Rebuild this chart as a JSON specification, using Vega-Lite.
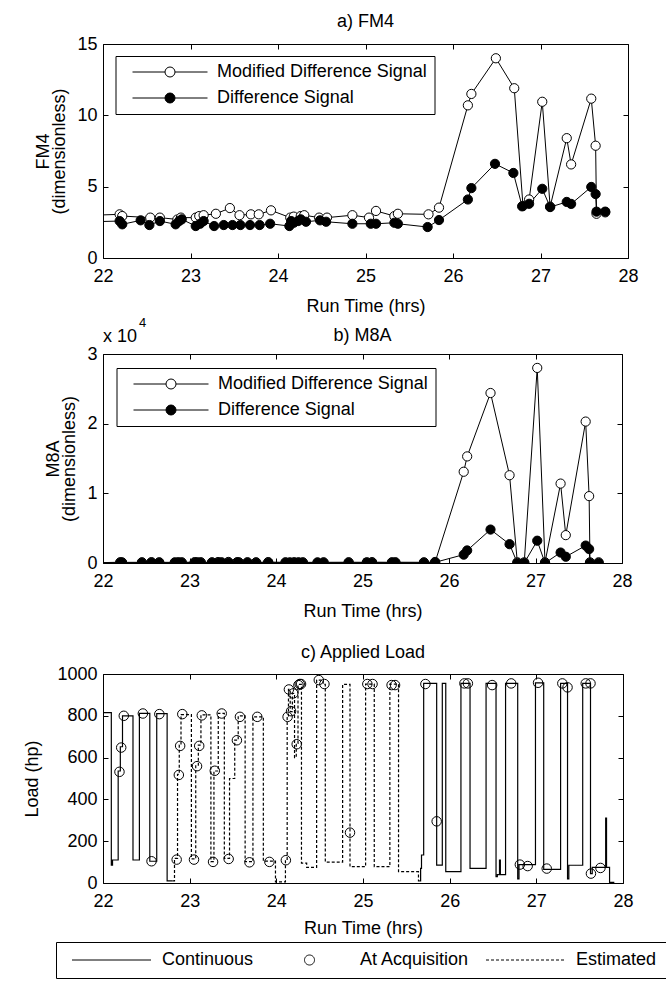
{
  "$schema": "https://vega.github.io/schema/vega-lite/v6.json",
  "padding": {"left": 23, "top": 12, "right": 0, "bottom": 0},
  "spacing": 0,
  "background": "white",
  "datasets": {
    "fm4": [
      {"t": 21.8, "v": 2.98, "s": "Modified Difference Signal"},
      {"t": 22.19, "v": 3.06, "s": "Modified Difference Signal"},
      {"t": 22.22, "v": 2.94, "s": "Modified Difference Signal"},
      {"t": 22.54, "v": 2.83, "s": "Modified Difference Signal"},
      {"t": 22.65, "v": 2.83, "s": "Modified Difference Signal"},
      {"t": 22.85, "v": 2.7, "s": "Modified Difference Signal"},
      {"t": 22.89, "v": 2.83, "s": "Modified Difference Signal"},
      {"t": 23.06, "v": 2.83, "s": "Modified Difference Signal"},
      {"t": 23.1, "v": 2.94, "s": "Modified Difference Signal"},
      {"t": 23.15, "v": 3.0, "s": "Modified Difference Signal"},
      {"t": 23.29, "v": 3.1, "s": "Modified Difference Signal"},
      {"t": 23.45, "v": 3.5, "s": "Modified Difference Signal"},
      {"t": 23.56, "v": 3.0, "s": "Modified Difference Signal"},
      {"t": 23.69, "v": 3.06, "s": "Modified Difference Signal"},
      {"t": 23.78, "v": 3.06, "s": "Modified Difference Signal"},
      {"t": 23.92, "v": 3.34, "s": "Modified Difference Signal"},
      {"t": 24.14, "v": 2.83, "s": "Modified Difference Signal"},
      {"t": 24.18, "v": 2.9, "s": "Modified Difference Signal"},
      {"t": 24.26, "v": 2.94, "s": "Modified Difference Signal"},
      {"t": 24.3, "v": 3.0, "s": "Modified Difference Signal"},
      {"t": 24.47, "v": 2.83, "s": "Modified Difference Signal"},
      {"t": 24.56, "v": 2.83, "s": "Modified Difference Signal"},
      {"t": 24.85, "v": 3.0, "s": "Modified Difference Signal"},
      {"t": 25.04, "v": 2.83, "s": "Modified Difference Signal"},
      {"t": 25.12, "v": 3.3, "s": "Modified Difference Signal"},
      {"t": 25.33, "v": 2.94, "s": "Modified Difference Signal"},
      {"t": 25.37, "v": 3.1, "s": "Modified Difference Signal"},
      {"t": 25.72, "v": 3.06, "s": "Modified Difference Signal"},
      {"t": 25.84, "v": 3.53, "s": "Modified Difference Signal"},
      {"t": 26.17, "v": 10.7, "s": "Modified Difference Signal"},
      {"t": 26.21, "v": 11.5, "s": "Modified Difference Signal"},
      {"t": 26.49, "v": 14.0, "s": "Modified Difference Signal"},
      {"t": 26.7, "v": 11.9, "s": "Modified Difference Signal"},
      {"t": 26.8, "v": 3.65, "s": "Modified Difference Signal"},
      {"t": 26.87, "v": 4.1, "s": "Modified Difference Signal"},
      {"t": 27.02, "v": 10.95, "s": "Modified Difference Signal"},
      {"t": 27.11, "v": 3.6, "s": "Modified Difference Signal"},
      {"t": 27.3, "v": 8.4, "s": "Modified Difference Signal"},
      {"t": 27.35, "v": 6.56, "s": "Modified Difference Signal"},
      {"t": 27.58, "v": 11.17, "s": "Modified Difference Signal"},
      {"t": 27.63, "v": 7.87, "s": "Modified Difference Signal"},
      {"t": 27.64, "v": 3.1, "s": "Modified Difference Signal"},
      {"t": 27.74, "v": 3.2, "s": "Modified Difference Signal"},
      {"t": 21.8, "v": 2.53, "s": "Difference Signal"},
      {"t": 22.19, "v": 2.59, "s": "Difference Signal"},
      {"t": 22.22, "v": 2.36, "s": "Difference Signal"},
      {"t": 22.43, "v": 2.64, "s": "Difference Signal"},
      {"t": 22.53, "v": 2.31, "s": "Difference Signal"},
      {"t": 22.65, "v": 2.59, "s": "Difference Signal"},
      {"t": 22.83, "v": 2.36, "s": "Difference Signal"},
      {"t": 22.87, "v": 2.59, "s": "Difference Signal"},
      {"t": 22.9, "v": 2.71, "s": "Difference Signal"},
      {"t": 23.06, "v": 2.24, "s": "Difference Signal"},
      {"t": 23.11, "v": 2.4, "s": "Difference Signal"},
      {"t": 23.15, "v": 2.59, "s": "Difference Signal"},
      {"t": 23.27, "v": 2.24, "s": "Difference Signal"},
      {"t": 23.38, "v": 2.31, "s": "Difference Signal"},
      {"t": 23.48, "v": 2.31, "s": "Difference Signal"},
      {"t": 23.57, "v": 2.31, "s": "Difference Signal"},
      {"t": 23.68, "v": 2.31, "s": "Difference Signal"},
      {"t": 23.79, "v": 2.31, "s": "Difference Signal"},
      {"t": 23.91, "v": 2.4, "s": "Difference Signal"},
      {"t": 24.13, "v": 2.24, "s": "Difference Signal"},
      {"t": 24.15, "v": 2.59, "s": "Difference Signal"},
      {"t": 24.18, "v": 2.47, "s": "Difference Signal"},
      {"t": 24.23, "v": 2.59, "s": "Difference Signal"},
      {"t": 24.26, "v": 2.71, "s": "Difference Signal"},
      {"t": 24.32, "v": 2.54, "s": "Difference Signal"},
      {"t": 24.48, "v": 2.64, "s": "Difference Signal"},
      {"t": 24.55, "v": 2.54, "s": "Difference Signal"},
      {"t": 24.85, "v": 2.4, "s": "Difference Signal"},
      {"t": 25.06, "v": 2.4, "s": "Difference Signal"},
      {"t": 25.12, "v": 2.4, "s": "Difference Signal"},
      {"t": 25.33, "v": 2.47, "s": "Difference Signal"},
      {"t": 25.37, "v": 2.4, "s": "Difference Signal"},
      {"t": 25.71, "v": 2.17, "s": "Difference Signal"},
      {"t": 25.84, "v": 2.66, "s": "Difference Signal"},
      {"t": 26.17, "v": 4.1, "s": "Difference Signal"},
      {"t": 26.21, "v": 4.9, "s": "Difference Signal"},
      {"t": 26.48, "v": 6.6, "s": "Difference Signal"},
      {"t": 26.69, "v": 5.96, "s": "Difference Signal"},
      {"t": 26.79, "v": 3.62, "s": "Difference Signal"},
      {"t": 26.87, "v": 3.8, "s": "Difference Signal"},
      {"t": 27.02, "v": 4.85, "s": "Difference Signal"},
      {"t": 27.11, "v": 3.57, "s": "Difference Signal"},
      {"t": 27.3, "v": 3.93, "s": "Difference Signal"},
      {"t": 27.35, "v": 3.79, "s": "Difference Signal"},
      {"t": 27.58, "v": 4.98, "s": "Difference Signal"},
      {"t": 27.63, "v": 4.48, "s": "Difference Signal"},
      {"t": 27.64, "v": 3.25, "s": "Difference Signal"},
      {"t": 27.74, "v": 3.25, "s": "Difference Signal"}
    ],
    "m8a": [
      {"t": 21.8, "v": 0, "s": "Modified Difference Signal"},
      {"t": 22.2, "v": 110, "s": "Modified Difference Signal"},
      {"t": 22.22, "v": 90, "s": "Modified Difference Signal"},
      {"t": 22.45, "v": 100, "s": "Modified Difference Signal"},
      {"t": 22.56, "v": 120, "s": "Modified Difference Signal"},
      {"t": 22.65, "v": 100, "s": "Modified Difference Signal"},
      {"t": 22.83, "v": 90, "s": "Modified Difference Signal"},
      {"t": 22.87, "v": 110, "s": "Modified Difference Signal"},
      {"t": 22.91, "v": 100, "s": "Modified Difference Signal"},
      {"t": 23.06, "v": 120, "s": "Modified Difference Signal"},
      {"t": 23.09, "v": 100, "s": "Modified Difference Signal"},
      {"t": 23.13, "v": 110, "s": "Modified Difference Signal"},
      {"t": 23.26, "v": 100, "s": "Modified Difference Signal"},
      {"t": 23.33, "v": 130, "s": "Modified Difference Signal"},
      {"t": 23.37, "v": 100, "s": "Modified Difference Signal"},
      {"t": 23.45, "v": 150, "s": "Modified Difference Signal"},
      {"t": 23.55, "v": 110, "s": "Modified Difference Signal"},
      {"t": 23.57, "v": 100, "s": "Modified Difference Signal"},
      {"t": 23.67, "v": 110, "s": "Modified Difference Signal"},
      {"t": 23.77, "v": 100, "s": "Modified Difference Signal"},
      {"t": 23.91, "v": 130, "s": "Modified Difference Signal"},
      {"t": 24.11, "v": 100, "s": "Modified Difference Signal"},
      {"t": 24.16, "v": 90, "s": "Modified Difference Signal"},
      {"t": 24.21, "v": 110, "s": "Modified Difference Signal"},
      {"t": 24.26, "v": 100, "s": "Modified Difference Signal"},
      {"t": 24.31, "v": 100, "s": "Modified Difference Signal"},
      {"t": 24.48, "v": 90, "s": "Modified Difference Signal"},
      {"t": 24.55, "v": 100, "s": "Modified Difference Signal"},
      {"t": 24.84, "v": 110, "s": "Modified Difference Signal"},
      {"t": 25.05, "v": 100, "s": "Modified Difference Signal"},
      {"t": 25.11, "v": 120, "s": "Modified Difference Signal"},
      {"t": 25.34, "v": 100, "s": "Modified Difference Signal"},
      {"t": 25.38, "v": 110, "s": "Modified Difference Signal"},
      {"t": 25.71, "v": 100, "s": "Modified Difference Signal"},
      {"t": 25.84, "v": 150, "s": "Modified Difference Signal"},
      {"t": 26.17, "v": 13100, "s": "Modified Difference Signal"},
      {"t": 26.21, "v": 15300, "s": "Modified Difference Signal"},
      {"t": 26.48, "v": 24400, "s": "Modified Difference Signal"},
      {"t": 26.7, "v": 12600, "s": "Modified Difference Signal"},
      {"t": 26.79, "v": 100, "s": "Modified Difference Signal"},
      {"t": 26.87, "v": 100, "s": "Modified Difference Signal"},
      {"t": 27.02, "v": 28000, "s": "Modified Difference Signal"},
      {"t": 27.11, "v": 100, "s": "Modified Difference Signal"},
      {"t": 27.29, "v": 11400, "s": "Modified Difference Signal"},
      {"t": 27.35, "v": 4000, "s": "Modified Difference Signal"},
      {"t": 27.58, "v": 20300, "s": "Modified Difference Signal"},
      {"t": 27.62, "v": 9600, "s": "Modified Difference Signal"},
      {"t": 27.63, "v": 100, "s": "Modified Difference Signal"},
      {"t": 27.73, "v": 100, "s": "Modified Difference Signal"},
      {"t": 21.8, "v": 0, "s": "Difference Signal"},
      {"t": 22.2, "v": 50, "s": "Difference Signal"},
      {"t": 22.22, "v": 40, "s": "Difference Signal"},
      {"t": 22.45, "v": 50, "s": "Difference Signal"},
      {"t": 22.56, "v": 60, "s": "Difference Signal"},
      {"t": 22.65, "v": 50, "s": "Difference Signal"},
      {"t": 22.83, "v": 40, "s": "Difference Signal"},
      {"t": 22.87, "v": 50, "s": "Difference Signal"},
      {"t": 22.91, "v": 50, "s": "Difference Signal"},
      {"t": 23.06, "v": 60, "s": "Difference Signal"},
      {"t": 23.09, "v": 50, "s": "Difference Signal"},
      {"t": 23.13, "v": 50, "s": "Difference Signal"},
      {"t": 23.26, "v": 50, "s": "Difference Signal"},
      {"t": 23.33, "v": 60, "s": "Difference Signal"},
      {"t": 23.37, "v": 50, "s": "Difference Signal"},
      {"t": 23.45, "v": 70, "s": "Difference Signal"},
      {"t": 23.55, "v": 50, "s": "Difference Signal"},
      {"t": 23.57, "v": 50, "s": "Difference Signal"},
      {"t": 23.67, "v": 50, "s": "Difference Signal"},
      {"t": 23.77, "v": 50, "s": "Difference Signal"},
      {"t": 23.91, "v": 60, "s": "Difference Signal"},
      {"t": 24.11, "v": 50, "s": "Difference Signal"},
      {"t": 24.16, "v": 40, "s": "Difference Signal"},
      {"t": 24.21, "v": 50, "s": "Difference Signal"},
      {"t": 24.26, "v": 50, "s": "Difference Signal"},
      {"t": 24.31, "v": 50, "s": "Difference Signal"},
      {"t": 24.48, "v": 40, "s": "Difference Signal"},
      {"t": 24.55, "v": 50, "s": "Difference Signal"},
      {"t": 24.84, "v": 50, "s": "Difference Signal"},
      {"t": 25.05, "v": 50, "s": "Difference Signal"},
      {"t": 25.11, "v": 60, "s": "Difference Signal"},
      {"t": 25.34, "v": 50, "s": "Difference Signal"},
      {"t": 25.38, "v": 50, "s": "Difference Signal"},
      {"t": 25.71, "v": 40, "s": "Difference Signal"},
      {"t": 25.84, "v": 100, "s": "Difference Signal"},
      {"t": 26.17, "v": 1200, "s": "Difference Signal"},
      {"t": 26.21, "v": 1800, "s": "Difference Signal"},
      {"t": 26.48, "v": 4800, "s": "Difference Signal"},
      {"t": 26.7, "v": 2700, "s": "Difference Signal"},
      {"t": 26.79, "v": 0, "s": "Difference Signal"},
      {"t": 26.87, "v": 0, "s": "Difference Signal"},
      {"t": 27.02, "v": 3200, "s": "Difference Signal"},
      {"t": 27.11, "v": 0, "s": "Difference Signal"},
      {"t": 27.29, "v": 1500, "s": "Difference Signal"},
      {"t": 27.35, "v": 900, "s": "Difference Signal"},
      {"t": 27.58, "v": 2500, "s": "Difference Signal"},
      {"t": 27.62, "v": 2000, "s": "Difference Signal"},
      {"t": 27.63, "v": 0, "s": "Difference Signal"},
      {"t": 27.73, "v": 0, "s": "Difference Signal"}
    ],
    "load": [
      {"t": 21.9, "v": 815, "s": "Continuous", "seg": "c1"},
      {"t": 22.096, "v": 86, "s": "Continuous", "seg": "c1"},
      {"t": 22.11, "v": 110, "s": "Continuous", "seg": "c1"},
      {"t": 22.175, "v": 536, "s": "Continuous", "seg": "c1"},
      {"t": 22.2, "v": 652, "s": "Continuous", "seg": "c1"},
      {"t": 22.225, "v": 800, "s": "Continuous", "seg": "c1"},
      {"t": 22.346, "v": 110, "s": "Continuous", "seg": "c1"},
      {"t": 22.42, "v": 812, "s": "Continuous", "seg": "c1"},
      {"t": 22.54, "v": 104, "s": "Continuous", "seg": "c1"},
      {"t": 22.62, "v": 810, "s": "Continuous", "seg": "c1"},
      {"t": 22.74, "v": 10, "s": "Continuous", "seg": "c1"},
      {"t": 22.8, "v": 10, "s": "Continuous", "seg": "c1"},
      {"t": 22.8, "v": 10, "s": "Estimated", "seg": "e"},
      {"t": 22.825, "v": 118, "s": "Estimated", "seg": "e"},
      {"t": 22.86, "v": 520, "s": "Estimated", "seg": "e"},
      {"t": 22.88, "v": 660, "s": "Estimated", "seg": "e"},
      {"t": 22.9, "v": 806, "s": "Estimated", "seg": "e"},
      {"t": 23.02, "v": 115, "s": "Estimated", "seg": "e"},
      {"t": 23.07, "v": 561, "s": "Estimated", "seg": "e"},
      {"t": 23.1, "v": 660, "s": "Estimated", "seg": "e"},
      {"t": 23.13, "v": 804, "s": "Estimated", "seg": "e"},
      {"t": 23.245, "v": 102, "s": "Estimated", "seg": "e"},
      {"t": 23.28, "v": 536, "s": "Estimated", "seg": "e"},
      {"t": 23.33, "v": 812, "s": "Estimated", "seg": "e"},
      {"t": 23.4, "v": 118, "s": "Estimated", "seg": "e"},
      {"t": 23.46, "v": 500, "s": "Estimated", "seg": "e"},
      {"t": 23.52, "v": 684, "s": "Estimated", "seg": "e"},
      {"t": 23.56, "v": 800, "s": "Estimated", "seg": "e"},
      {"t": 23.64, "v": 102, "s": "Estimated", "seg": "e"},
      {"t": 23.73, "v": 795, "s": "Estimated", "seg": "e"},
      {"t": 23.85, "v": 105, "s": "Estimated", "seg": "e"},
      {"t": 23.99, "v": 5, "s": "Estimated", "seg": "e"},
      {"t": 24.105, "v": 113, "s": "Estimated", "seg": "e"},
      {"t": 24.125, "v": 800, "s": "Estimated", "seg": "e"},
      {"t": 24.14, "v": 926, "s": "Estimated", "seg": "e"},
      {"t": 24.16, "v": 820, "s": "Estimated", "seg": "e"},
      {"t": 24.185, "v": 907, "s": "Estimated", "seg": "e"},
      {"t": 24.21, "v": 600, "s": "Estimated", "seg": "e"},
      {"t": 24.23, "v": 668, "s": "Estimated", "seg": "e"},
      {"t": 24.25, "v": 950, "s": "Estimated", "seg": "e"},
      {"t": 24.29, "v": 95, "s": "Estimated", "seg": "e"},
      {"t": 24.35, "v": 75, "s": "Estimated", "seg": "e"},
      {"t": 24.465, "v": 971, "s": "Estimated", "seg": "e"},
      {"t": 24.54, "v": 950, "s": "Estimated", "seg": "e"},
      {"t": 24.565, "v": 100, "s": "Estimated", "seg": "e"},
      {"t": 24.765, "v": 950, "s": "Estimated", "seg": "e"},
      {"t": 24.85, "v": 78, "s": "Estimated", "seg": "e"},
      {"t": 25.03, "v": 952, "s": "Estimated", "seg": "e"},
      {"t": 25.13, "v": 78, "s": "Estimated", "seg": "e"},
      {"t": 25.31, "v": 952, "s": "Estimated", "seg": "e"},
      {"t": 25.41, "v": 54, "s": "Estimated", "seg": "e"},
      {"t": 25.64, "v": 10, "s": "Estimated", "seg": "e"},
      {"t": 25.655, "v": 10, "s": "Estimated", "seg": "e"},
      {"t": 25.655, "v": 10, "s": "Continuous", "seg": "c2"},
      {"t": 25.665, "v": 70, "s": "Continuous", "seg": "c2"},
      {"t": 25.675, "v": 134, "s": "Continuous", "seg": "c2"},
      {"t": 25.7, "v": 955, "s": "Continuous", "seg": "c2"},
      {"t": 25.85, "v": 86, "s": "Continuous", "seg": "c2"},
      {"t": 25.915, "v": 955, "s": "Continuous", "seg": "c2"},
      {"t": 25.955, "v": 54, "s": "Continuous", "seg": "c2"},
      {"t": 26.13, "v": 955, "s": "Continuous", "seg": "c2"},
      {"t": 26.235, "v": 70, "s": "Continuous", "seg": "c2"},
      {"t": 26.42, "v": 955, "s": "Continuous", "seg": "c2"},
      {"t": 26.535, "v": 30, "s": "Continuous", "seg": "c2"},
      {"t": 26.55, "v": 40, "s": "Continuous", "seg": "c2"},
      {"t": 26.575, "v": 110, "s": "Continuous", "seg": "c2"},
      {"t": 26.585, "v": 40, "s": "Continuous", "seg": "c2"},
      {"t": 26.645, "v": 955, "s": "Continuous", "seg": "c2"},
      {"t": 26.785, "v": 20, "s": "Continuous", "seg": "c2"},
      {"t": 26.8, "v": 88, "s": "Continuous", "seg": "c2"},
      {"t": 26.99, "v": 958, "s": "Continuous", "seg": "c2"},
      {"t": 27.085, "v": 65, "s": "Continuous", "seg": "c2"},
      {"t": 27.28, "v": 955, "s": "Continuous", "seg": "c2"},
      {"t": 27.36, "v": 20, "s": "Continuous", "seg": "c2"},
      {"t": 27.375, "v": 85, "s": "Continuous", "seg": "c2"},
      {"t": 27.535, "v": 955, "s": "Continuous", "seg": "c2"},
      {"t": 27.625, "v": 45, "s": "Continuous", "seg": "c2"},
      {"t": 27.645, "v": 75, "s": "Continuous", "seg": "c2"},
      {"t": 27.8, "v": 310, "s": "Continuous", "seg": "c2"},
      {"t": 27.81, "v": 75, "s": "Continuous", "seg": "c2"},
      {"t": 27.845, "v": 3, "s": "Continuous", "seg": "c2"},
      {"t": 27.9, "v": 3, "s": "Continuous", "seg": "c2"}
    ],
    "acq": [
      {"t": 22.19, "v": 532, "s": "At Acquisition"},
      {"t": 22.21, "v": 648, "s": "At Acquisition"},
      {"t": 22.24, "v": 800, "s": "At Acquisition"},
      {"t": 22.46, "v": 811, "s": "At Acquisition"},
      {"t": 22.56, "v": 104, "s": "At Acquisition"},
      {"t": 22.65, "v": 808, "s": "At Acquisition"},
      {"t": 22.85, "v": 112, "s": "At Acquisition"},
      {"t": 22.875, "v": 517, "s": "At Acquisition"},
      {"t": 22.89, "v": 656, "s": "At Acquisition"},
      {"t": 22.915, "v": 808, "s": "At Acquisition"},
      {"t": 23.05, "v": 112, "s": "At Acquisition"},
      {"t": 23.085, "v": 559, "s": "At Acquisition"},
      {"t": 23.11, "v": 656, "s": "At Acquisition"},
      {"t": 23.14, "v": 802, "s": "At Acquisition"},
      {"t": 23.27, "v": 101, "s": "At Acquisition"},
      {"t": 23.29, "v": 537, "s": "At Acquisition"},
      {"t": 23.37, "v": 811, "s": "At Acquisition"},
      {"t": 23.45, "v": 115, "s": "At Acquisition"},
      {"t": 23.545, "v": 683, "s": "At Acquisition"},
      {"t": 23.58, "v": 795, "s": "At Acquisition"},
      {"t": 23.69, "v": 99, "s": "At Acquisition"},
      {"t": 23.78, "v": 795, "s": "At Acquisition"},
      {"t": 23.92, "v": 101, "s": "At Acquisition"},
      {"t": 24.11, "v": 109, "s": "At Acquisition"},
      {"t": 24.13, "v": 795, "s": "At Acquisition"},
      {"t": 24.145, "v": 926, "s": "At Acquisition"},
      {"t": 24.17, "v": 822, "s": "At Acquisition"},
      {"t": 24.195, "v": 907, "s": "At Acquisition"},
      {"t": 24.235, "v": 664, "s": "At Acquisition"},
      {"t": 24.255, "v": 947, "s": "At Acquisition"},
      {"t": 24.27, "v": 952, "s": "At Acquisition"},
      {"t": 24.285, "v": 952, "s": "At Acquisition"},
      {"t": 24.49, "v": 971, "s": "At Acquisition"},
      {"t": 24.555, "v": 952, "s": "At Acquisition"},
      {"t": 24.85, "v": 241, "s": "At Acquisition"},
      {"t": 25.05, "v": 952, "s": "At Acquisition"},
      {"t": 25.11, "v": 952, "s": "At Acquisition"},
      {"t": 25.33, "v": 947, "s": "At Acquisition"},
      {"t": 25.37, "v": 947, "s": "At Acquisition"},
      {"t": 25.72, "v": 952, "s": "At Acquisition"},
      {"t": 25.85, "v": 295, "s": "At Acquisition"},
      {"t": 26.17, "v": 955, "s": "At Acquisition"},
      {"t": 26.21, "v": 955, "s": "At Acquisition"},
      {"t": 26.49, "v": 947, "s": "At Acquisition"},
      {"t": 26.71, "v": 955, "s": "At Acquisition"},
      {"t": 26.81, "v": 88, "s": "At Acquisition"},
      {"t": 26.9, "v": 81, "s": "At Acquisition"},
      {"t": 27.02, "v": 958, "s": "At Acquisition"},
      {"t": 27.12, "v": 69, "s": "At Acquisition"},
      {"t": 27.3, "v": 955, "s": "At Acquisition"},
      {"t": 27.36, "v": 936, "s": "At Acquisition"},
      {"t": 27.57, "v": 955, "s": "At Acquisition"},
      {"t": 27.625, "v": 955, "s": "At Acquisition"},
      {"t": 27.63, "v": 45, "s": "At Acquisition"},
      {"t": 27.74, "v": 72, "s": "At Acquisition"}
    ]
  },
  "vconcat": [
    {
      "width": 525,
      "height": 214,
      "title": {"text": "a) FM4", "offset": 4},
      "layer": [
        {
          "data": {"name": "fm4"},
          "mark": {"type": "line", "color": "black", "strokeWidth": 1, "clip": true},
          "encoding": {
            "x": {"field": "t", "type": "quantitative", "scale": {"domain": [22, 28], "nice": false, "zero": false},
                  "axis": {"orient": "bottom", "values": [22, 23, 24, 25, 26, 27, 28], "title": "Run Time (hrs)", "format": "d"}},
            "y": {"field": "v", "type": "quantitative", "scale": {"domain": [0, 15], "nice": false, "zero": false},
                  "axis": {"orient": "left", "values": [0, 5, 10, 15], "title": ["FM4", "(dimensionless)"], "titleLineHeight": 16, "format": "d"}},
            "detail": {"field": "s"}
          }
        },
        {
          "data": {"name": "fm4"},
          "mark": {"type": "point", "shape": "circle", "filled": true, "stroke": "black", "strokeWidth": 1, "size": 85, "opacity": 1, "clip": true},
          "encoding": {
            "x": {"field": "t", "type": "quantitative", "axis": {"orient": "top", "labels": false, "title": null, "values": [22, 23, 24, 25, 26, 27, 28]}},
            "y": {"field": "v", "type": "quantitative", "axis": {"orient": "right", "labels": false, "title": null, "values": [0, 5, 10, 15]}},
            "fill": {"field": "s", "type": "nominal",
                     "scale": {"domain": ["Modified Difference Signal", "Difference Signal"], "range": ["white", "black"]},
                     "legend": {"title": null, "orient": "none", "legendX": 12.5, "legendY": 12, "direction": "vertical",
                                "symbolType": "M-7.5,0L-1,0M1,0L7.5,0M1,0A1,1,0,1,1,-1,0A1,1,0,1,1,1,0Z",
                                "symbolSize": 100, "symbolStrokeColor": "black", "symbolStrokeWidth": 1,
                                "symbolOffset": 38.5, "labelOffset": 38, "padding": 7, "rowPadding": 8,
                                "strokeColor": "black", "fillColor": "white", "labelFontSize": 18, "labelLimit": 400, "labelColor": "black"}}
          }
        }
      ],
      "resolve": {"axis": {"x": "independent", "y": "independent"}}
    },
    {
      "width": 519,
      "height": 209,
      "title": {"text": "b) M8A", "offset": -28},
      "layer": [
        {
          "data": {"name": "m8a"},
          "mark": {"type": "line", "color": "black", "strokeWidth": 1, "clip": true},
          "encoding": {
            "x": {"field": "t", "type": "quantitative", "scale": {"domain": [22, 28], "nice": false, "zero": false},
                  "axis": {"orient": "bottom", "values": [22, 23, 24, 25, 26, 27, 28], "title": "Run Time (hrs)", "format": "d"}},
            "y": {"field": "v", "type": "quantitative", "scale": {"domain": [0, 30000], "nice": false, "zero": false},
                  "axis": {"orient": "left", "values": [0, 10000, 20000, 30000], "labelExpr": "format(datum.value / 10000, 'd')", "title": ["M8A", "(dimensionless)"], "titleLineHeight": 16}},
            "detail": {"field": "s"}
          }
        },
        {
          "data": {"name": "m8a"},
          "mark": {"type": "point", "shape": "circle", "filled": true, "stroke": "black", "strokeWidth": 1, "size": 85, "opacity": 1, "clip": true},
          "encoding": {
            "x": {"field": "t", "type": "quantitative", "axis": {"orient": "top", "labels": false, "title": null, "values": [22, 23, 24, 25, 26, 27, 28]}},
            "y": {"field": "v", "type": "quantitative", "axis": {"orient": "right", "labels": false, "title": null, "values": [0, 10000, 20000, 30000]}},
            "fill": {"field": "s", "type": "nominal",
                     "scale": {"domain": ["Modified Difference Signal", "Difference Signal"], "range": ["white", "black"]},
                     "legend": {"title": null, "orient": "none", "legendX": 13.5, "legendY": 14, "direction": "vertical",
                                "symbolType": "M-7.5,0L-1,0M1,0L7.5,0M1,0A1,1,0,1,1,-1,0A1,1,0,1,1,1,0Z",
                                "symbolSize": 100, "symbolStrokeColor": "black", "symbolStrokeWidth": 1,
                                "symbolOffset": 38.5, "labelOffset": 38, "padding": 7, "rowPadding": 8,
                                "strokeColor": "black", "fillColor": "white", "labelFontSize": 18, "labelLimit": 400, "labelColor": "black"}}
          }
        },
        {
          "data": {"values": [{"label": "x 10"}]},
          "mark": {"type": "text", "align": "left", "baseline": "middle", "dy": -17, "fontSize": 18, "color": "black"},
          "encoding": {
            "x": {"datum": 22, "type": "quantitative", "axis": null},
            "y": {"datum": 30000, "type": "quantitative", "axis": null},
            "text": {"field": "label"}
          }
        },
        {
          "data": {"values": [{"label": "4"}]},
          "mark": {"type": "text", "align": "left", "baseline": "middle", "dx": 36, "dy": -31, "fontSize": 13, "color": "black"},
          "encoding": {
            "x": {"datum": 22, "type": "quantitative", "axis": null},
            "y": {"datum": 30000, "type": "quantitative", "axis": null},
            "text": {"field": "label"}
          }
        }
      ],
      "resolve": {"axis": {"x": "independent", "y": "independent"}}
    },
    {
      "width": 520,
      "height": 209,
      "title": {"text": [" ", "c) Applied Load"], "offset": 3, "lineHeight": 22},
      "layer": [
        {
          "data": {"name": "load"},
          "mark": {"type": "line", "interpolate": "step-after", "color": "black", "strokeWidth": 1.2, "clip": true},
          "encoding": {
            "x": {"field": "t", "type": "quantitative", "scale": {"domain": [22, 28], "nice": false, "zero": false},
                  "axis": {"orient": "bottom", "values": [22, 23, 24, 25, 26, 27, 28], "title": "Run Time (hrs)", "format": "d", "titlePadding": 9}},
            "y": {"field": "v", "type": "quantitative", "scale": {"domain": [0, 1000], "nice": false, "zero": false},
                  "axis": {"orient": "left", "values": [0, 200, 400, 600, 800, 1000], "title": "Load (hp)", "format": "d", "titlePadding": 15}},
            "detail": {"field": "seg"},
            "strokeDash": {"field": "s", "type": "nominal",
                           "scale": {"domain": ["Continuous", "At Acquisition", "Estimated"], "range": [[1, 0], [1, 0], [3, 2]]},
                           "legend": {"title": null, "orient": "none", "legendX": -47, "legendY": 268, "direction": "horizontal",
                                      "symbolSize": 100, "symbolStrokeColor": "black", "symbolStrokeWidth": 1, "symbolFillColor": "transparent",
                                      "symbolOffset": 37.5, "labelOffset": 41.5, "padding": 9, "columnPadding": 9,
                                      "strokeColor": "black", "fillColor": "white", "labelFontSize": 18, "labelLimit": 400, "labelColor": "black"}}
          }
        },
        {
          "data": {"name": "acq"},
          "mark": {"type": "point", "filled": false, "color": "black", "strokeWidth": 1, "size": 90, "opacity": 1, "clip": true},
          "encoding": {
            "x": {"field": "t", "type": "quantitative", "axis": {"orient": "top", "labels": false, "title": null, "values": [22, 23, 24, 25, 26, 27, 28]}},
            "y": {"field": "v", "type": "quantitative", "axis": {"orient": "right", "labels": false, "title": null, "values": [0, 200, 400, 600, 800, 1000]}},
            "shape": {"field": "s", "type": "nominal",
                      "scale": {"domain": ["Continuous", "At Acquisition", "Estimated"], "range": ["M-7.9,0L7.9,0", "circle", "M-7.9,0L7.9,0"]},
                      "legend": {"title": null, "orient": "none", "legendX": -47, "legendY": 268, "direction": "horizontal",
                                 "symbolSize": 100, "symbolStrokeColor": "black", "symbolStrokeWidth": 1, "symbolFillColor": "transparent",
                                 "symbolOffset": 37.5, "labelOffset": 41.5, "padding": 9, "columnPadding": 9,
                                 "strokeColor": "black", "fillColor": "white", "labelFontSize": 18, "labelLimit": 400, "labelColor": "black"}}
          }
        }
      ],
      "resolve": {"axis": {"x": "independent", "y": "independent"}}
    }
  ],
  "resolve": {"scale": {"fill": "independent", "shape": "independent", "strokeDash": "independent"}, "legend": {"fill": "independent", "shape": "independent", "strokeDash": "independent"}},
  "config": {
    "font": "Liberation Sans",
    "view": {"stroke": "black", "strokeWidth": 1},
    "axis": {"domain": false, "grid": false, "ticks": true, "tickColor": "black", "tickSize": -5, "tickWidth": 1,
             "labelColor": "black", "labelFont": "Liberation Sans", "labelFontSize": 18, "labelFlush": false, "labelOverlap": false,
             "titleFont": "Liberation Sans", "titleFontSize": 18, "titleFontWeight": "normal", "titleColor": "black"},
    "axisX": {"labelPadding": 14, "titlePadding": 12},
    "axisY": {"labelPadding": 11, "titlePadding": 8},
    "title": {"font": "Liberation Sans", "fontSize": 18, "fontWeight": "normal", "color": "black"},
    "legend": {"labelFont": "Liberation Sans"},
    "text": {"font": "Liberation Sans"}
  }
}
